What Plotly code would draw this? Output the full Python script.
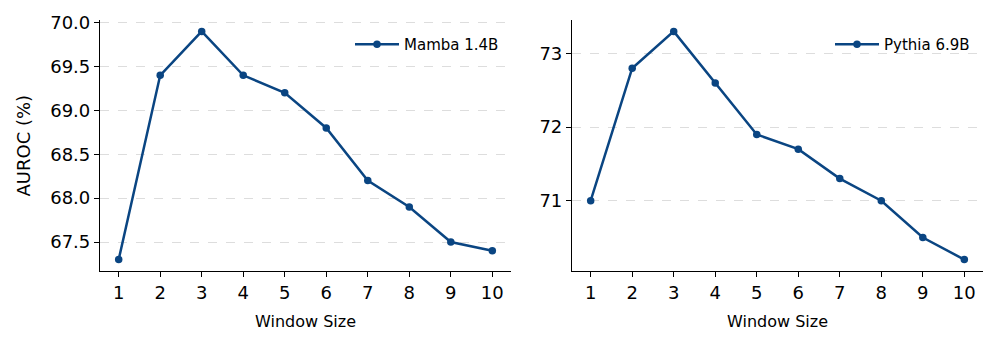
import plotly.graph_objects as go

window_sizes = [1, 2, 3, 4, 5, 6, 7, 8, 9, 10]
mamba_auroc = [67.3, 69.4, 69.9, 69.4, 69.2, 68.8, 68.2, 67.9, 67.5, 67.4]
pythia_auroc = [71.0, 72.8, 73.3, 72.6, 71.9, 71.7, 71.3, 71.0, 70.5, 70.2]
left_yticks = [67.5, 68.0, 68.5, 69.0, 69.5, 70.0]
right_yticks = [71, 72, 73]

W, H = 997, 345
COLOR = "#0a4582"
FONT = "DejaVu Sans"

def px_x(p):
    return p / W

def px_y(p):
    return 1 - p / H

fig = go.Figure()
fig.add_trace(go.Scatter(x=window_sizes, y=mamba_auroc, mode="lines+markers",
                         name="Mamba 1.4B", line=dict(color=COLOR, width=2.5),
                         marker=dict(size=7.5, color=COLOR), xaxis="x", yaxis="y",
                         legend="legend", showlegend=True))
fig.add_trace(go.Scatter(x=window_sizes, y=pythia_auroc, mode="lines+markers",
                         name="Pythia 6.9B", line=dict(color=COLOR, width=2.5),
                         marker=dict(size=7.5, color=COLOR), xaxis="x2", yaxis="y2",
                         legend="legend2", showlegend=True))

def pad_range(vals):
    mn, mx = min(vals), max(vals)
    d = (mx - mn) * 0.05
    return [mn - d, mx + d]

common_x = dict(tickmode="array", tickvals=window_sizes, ticks="outside", ticklen=5,
                tickwidth=1, tickcolor="black", showline=True, linecolor="black",
                linewidth=1.2, showgrid=False, zeroline=False, automargin=False,
                tickfont=dict(family=FONT, size=18, color="black"))
common_y = dict(tickmode="array", ticks="outside", ticklen=5, tickwidth=1,
                tickcolor="black", showline=True, linecolor="black", linewidth=1.2,
                showgrid=True, gridcolor="#dddddd", griddash="dash", gridwidth=1,
                zeroline=False, automargin=False,
                tickfont=dict(family=FONT, size=18, color="black"))

legend_common = dict(xanchor="right", yanchor="top", bgcolor="rgba(0,0,0,0)",
                     itemwidth=44, font=dict(family=FONT, size=15, color="black"))

ydom = [px_y(271), px_y(20)]
fig.update_layout(
    width=W, height=H, margin=dict(l=0, r=0, t=0, b=0, pad=0),
    paper_bgcolor="white", plot_bgcolor="white", showlegend=True,
    font=dict(family=FONT, color="black"),
    xaxis=dict(domain=[px_x(100), px_x(511)], range=pad_range(window_sizes),
               anchor="y", **common_x),
    yaxis=dict(domain=ydom, range=pad_range(mamba_auroc), tickvals=left_yticks,
               ticktext=[f"{v:.1f}" for v in left_yticks], anchor="x", **common_y),
    xaxis2=dict(domain=[px_x(572), px_x(983)], range=pad_range(window_sizes),
                anchor="y2", **common_x),
    yaxis2=dict(domain=ydom, range=pad_range(pythia_auroc), tickvals=right_yticks,
                ticktext=[str(v) for v in right_yticks], anchor="x2", **common_y),
    legend=dict(x=px_x(504), y=px_y(28), **legend_common),
    legend2=dict(x=px_x(975), y=px_y(28), **legend_common),
    annotations=[
        dict(text="Window Size", x=px_x(305.5), y=px_y(321), xref="paper", yref="paper",
             showarrow=False, xanchor="center", yanchor="middle",
             font=dict(family=FONT, size=16, color="black")),
        dict(text="Window Size", x=px_x(777.5), y=px_y(321), xref="paper", yref="paper",
             showarrow=False, xanchor="center", yanchor="middle",
             font=dict(family=FONT, size=16, color="black")),
        dict(text="AUROC (%)", x=px_x(23), y=px_y(145.5), xref="paper", yref="paper",
             showarrow=False, xanchor="center", yanchor="middle", textangle=-90,
             font=dict(family=FONT, size=18, color="black")),
    ],
)

fig.write_html("out.html", config={"displayModeBar": False},
               post_script="document.body.style.margin='0';document.body.style.overflow='hidden';")
